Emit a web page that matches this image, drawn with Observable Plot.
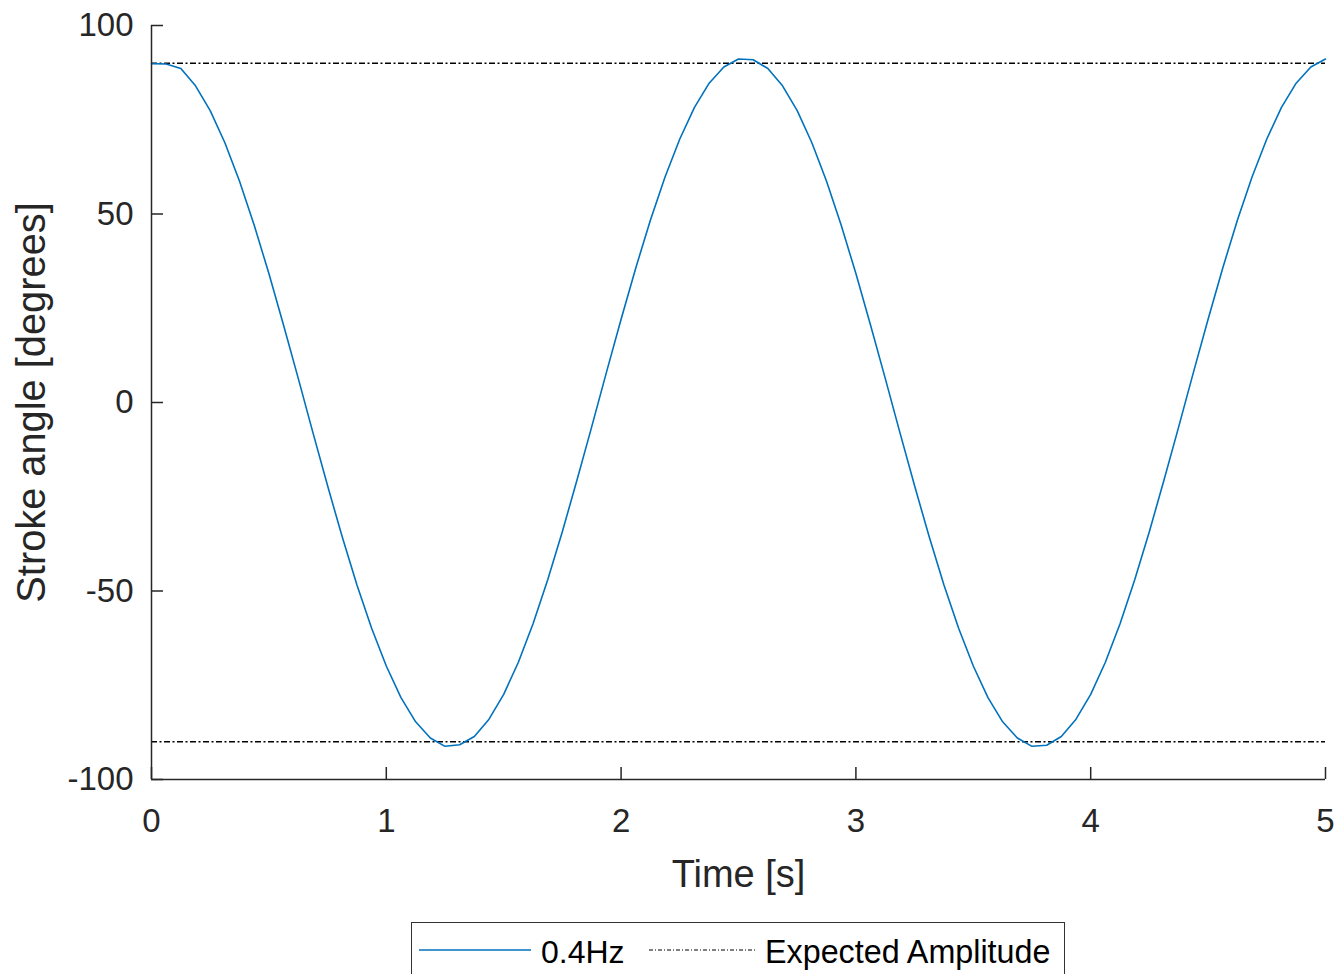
<!DOCTYPE html>
<html>
<head>
<meta charset="utf-8">
<script src="https://cdn.jsdelivr.net/npm/d3@7"></script>
<script src="https://cdn.jsdelivr.net/npm/@observablehq/plot@0.6"></script>
<style>
  html, body { margin: 0; padding: 0; background: #fff; }
  #wrap { position: relative; width: 1338px; height: 974px; overflow: hidden; font-family: "Liberation Sans", Arial, Helvetica, sans-serif; }
  #legend { position: absolute; left: 411px; top: 922px; width: 654px; height: 70px; border: 1.5px solid #333; box-sizing: border-box; background: #fff; }
  #legend svg { position: absolute; left: 0; top: 0; }
</style>
</head>
<body>
<div id="wrap"><div id="chart"></div><div id="legend"></div></div>
<script>
// Sample times (s), 16 Hz
const times = d3.range(0, 81).map(i => i / 16);
// Stroke angle (degrees), one per sample
const angle = [
  89.9, 89.8, 88.6, 84.0, 77.4, 68.9, 58.7, 47.0, 34.2, 20.5,
  6.4, -8.0, -22.1, -35.7, -48.4, -59.9, -69.9, -78.3, -84.7, -89.0,
  -91.2, -90.8, -88.6, -84.0, -77.4, -68.9, -58.7, -47.0, -34.2, -20.5,
  -6.4, 8.0, 22.1, 35.7, 48.4, 59.9, 69.9, 78.3, 84.7, 89.0,
  91.1, 90.9, 88.6, 84.0, 77.4, 68.9, 58.7, 47.0, 34.2, 20.5,
  6.4, -8.0, -22.1, -35.7, -48.4, -59.9, -69.9, -78.3, -84.7, -89.0,
  -91.2, -90.9, -88.6, -84.0, -77.4, -68.9, -58.7, -47.0, -34.2, -20.5,
  -6.4, 8.0, 22.1, 35.7, 48.4, 59.9, 69.9, 78.3, 84.7, 89.0,
  91.1
];
const expectedAmplitude = [90, -90];
const xTicks = [0, 1, 2, 3, 4, 5];
const yTicks = [-100, -50, 0, 50, 100];
const seriesName = "0.4Hz";
const refName = "Expected Amplitude";

const data = times.map((t, i) => ({t, a: angle[i]}));
const axisColor = "#262626";

const chart = Plot.plot({
  width: 1338,
  height: 915,
  marginLeft: 151,
  marginRight: 13,
  marginTop: 25,
  marginBottom: 136,
  style: {fontFamily: "'Liberation Sans', Arial, Helvetica, sans-serif", background: "white", color: axisColor},
  x: {domain: [0, 5]},
  y: {domain: [-100, 100]},
  marks: [
    Plot.ruleY(expectedAmplitude, {stroke: "#000", strokeWidth: 1.5, strokeDasharray: "6,2.5,2,2.5"}),
    Plot.line(data, {x: "t", y: "a", stroke: "#0072BD", strokeWidth: 1.6}),
    Plot.ruleX([0], {stroke: axisColor, strokeWidth: 1.5}),
    Plot.ruleY([-100], {stroke: axisColor, strokeWidth: 1.5}),
    Plot.axisX(xTicks, {tickSize: -12, tickPadding: 41, fontSize: 33, stroke: axisColor, strokeWidth: 1.5,
      tickFormat: d => String(d), label: "Time [s]", labelAnchor: "center", labelArrow: "none", labelOffset: 107}),
    Plot.axisY(yTicks, {tickSize: -12, tickPadding: 30, fontSize: 33, stroke: axisColor, strokeWidth: 1.5,
      tickFormat: d => String(d), label: "Stroke angle [degrees]", labelAnchor: "center", labelArrow: "none", labelOffset: 135})
  ]
});
document.getElementById("chart").appendChild(chart);

// axis label sizes
chart.querySelectorAll("g[aria-label='x-axis label'] text").forEach(t => {
  t.setAttribute("font-size", 38); t.style.fontSize = "38px";
});
chart.querySelectorAll("g[aria-label='y-axis label'] text").forEach(t => {
  t.setAttribute("font-size", 39.8); t.style.fontSize = "39.8px";
});

// legend
const lg = d3.select("#legend").append("svg").attr("width", 654).attr("height", 70)
  .style("font-family", "'Liberation Sans', Arial, Helvetica, sans-serif");
lg.append("line").attr("x1", 7).attr("x2", 119).attr("y1", 27).attr("y2", 27)
  .attr("stroke", "#0072BD").attr("stroke-width", 1.6);
lg.append("text").attr("x", 129).attr("y", 40).attr("font-size", 32).attr("fill", "black").text(seriesName);
lg.append("line").attr("x1", 237).attr("x2", 343).attr("y1", 27).attr("y2", 27)
  .attr("stroke", "black").attr("stroke-width", 1.2).attr("stroke-dasharray", "4,2,1,2");
lg.append("text").attr("x", 353).attr("y", 40).attr("font-size", 32.3).attr("fill", "black").text(refName);
</script>
</body>
</html>
